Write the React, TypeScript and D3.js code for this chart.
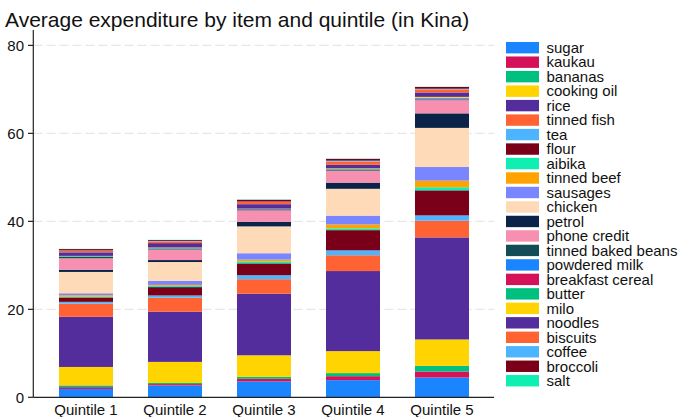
import React from "react";
import * as d3 from "d3";

const quintiles = ["Quintile 1", "Quintile 2", "Quintile 3", "Quintile 4", "Quintile 5"];
const items = [
  "sugar", "kaukau", "bananas", "cooking oil", "rice", "tinned fish", "tea", "flour",
  "aibika", "tinned beef", "sausages", "chicken", "petrol", "phone credit",
  "tinned baked beans", "powdered milk", "breakfast cereal", "butter", "milo",
  "noodles", "biscuits", "coffee", "broccoli", "salt",
];
const sugar = [1.9, 2.7, 3.6, 3.9, 4.5];
const kaukau = [0.4, 0.3, 0.6, 0.9, 1.35];
const bananas = [0.4, 0.25, 0.45, 0.7, 1.3];
const cookingOil = [4.2, 4.8, 4.9, 5.0, 6.0];
const rice = [11.4, 11.4, 14.0, 18.2, 23.2];
const tinnedFish = [3.0, 3.2, 3.3, 3.6, 3.8];
const tea = [0.4, 0.5, 0.9, 1.1, 1.2];
const flour = [1.0, 1.9, 2.7, 4.6, 5.7];
const aibika = [0.2, 0.3, 0.45, 0.4, 0.7];
const tinnedBeef = [0.3, 0.2, 0.4, 0.9, 1.5];
const sausages = [0.45, 0.9, 1.45, 2.0, 3.1];
const chicken = [4.85, 4.3, 6.1, 6.1, 8.9];
const petrol = [0.5, 0.45, 1.05, 1.4, 3.3];
const phoneCredit = [2.6, 2.4, 2.6, 2.7, 3.0];
const bakedBeans = [0.3, 0.15, 0.2, 0.15, 0.15];
const powderedMilk = [0.05, 0.05, 0.05, 0.1, 0.2];
const cereal = [0.05, 0.05, 0.05, 0.05, 0.1];
const butter = [0.1, 0.1, 0.05, 0.1, 0.1];
const milo = [0.05, 0.1, 0.05, 0.15, 0.2];
const noodles = [0.8, 1.0, 1.0, 0.8, 1.0];
const biscuits = [0.35, 0.4, 0.5, 0.75, 0.7];
const coffee = [0.1, 0.1, 0.1, 0.2, 0.15];
const broccoli = [0.3, 0.2, 0.4, 0.4, 0.4];
const salt = [0.05, 0.05, 0.05, 0.05, 0.05];

const seriesValues = [
  sugar, kaukau, bananas, cookingOil, rice, tinnedFish, tea, flour, aibika, tinnedBeef,
  sausages, chicken, petrol, phoneCredit, bakedBeans, powderedMilk, cereal, butter, milo,
  noodles, biscuits, coffee, broccoli, salt,
];
const yTicks = [0, 20, 40, 60, 80];

const palette = [
  "#1a85ff", "#d41159", "#00bf7f", "#ffd400", "#532d9b", "#ff6233", "#4db5ff",
  "#7a0019", "#0fefb2", "#ffa300", "#7a86ff", "#ffdab8", "#0b2348", "#f78fb0", "#124d57",
];

const FONT = "'Liberation Sans', Arial, Helvetica, sans-serif";

export default function App() {
  const W = 680, H = 417;
  const x = d3.scaleBand<string>().domain(quintiles).range([41.5, 486.5]).paddingInner(0.393).paddingOuter(0.1965);
  const y = d3.scaleLinear().domain([0, 83.5]).range([397.3, 30]);
  const color = d3.scaleOrdinal<string, string>().domain(items).range(items.map((_, i) => palette[i % palette.length]));

  const table = quintiles.map((q, qi) => {
    const row: any = { q };
    items.forEach((it, ii) => (row[it] = seriesValues[ii][qi]));
    return row;
  });
  const stacked = d3.stack<any>().keys(items)(table);

  const legendY = (i: number) => 47.7 + i * 14.48;

  return (
    <svg width={W} height={H} style={{ position: "absolute", left: 0, top: 0, background: "#fff" }} fontFamily={FONT}>
      <rect x={0} y={0} width={W} height={H} fill="#fff" />
      <text x={5} y={27} fontSize={21} fill="#111">Average expenditure by item and quintile (in Kina)</text>
      {yTicks.filter((t) => t > 0).map((t) => (
        <line key={"g" + t} x1={33.5} x2={494} y1={y(t)} y2={y(t)} stroke="#e6e6e6" strokeWidth={1.3} strokeDasharray="9,4" />
      ))}
      {stacked.map((s) => (
        <g key={s.key} fill={color(s.key)}>
          {s.map((d, i) => (
            <rect key={i} x={x(quintiles[i])} width={x.bandwidth()} y={y(d[1])} height={Math.max(0, y(d[0]) - y(d[1]))} />
          ))}
        </g>
      ))}
      <line x1={33.3} x2={33.3} y1={30} y2={397.3} stroke="#222" strokeWidth={1.2} />
      <line x1={33.3} x2={494} y1={397.3} y2={397.3} stroke="#222" strokeWidth={1.2} />
      {yTicks.map((t) => (
        <g key={"t" + t}>
          <line x1={28} x2={33.3} y1={y(t)} y2={y(t)} stroke="#222" strokeWidth={1.2} />
          <text x={24} y={y(t)} dy="0.35em" textAnchor="end" fontSize={15} fill="#111">{t}</text>
        </g>
      ))}
      {quintiles.map((q) => (
        <text key={q} x={(x(q) as number) + x.bandwidth() / 2} y={415} textAnchor="middle" fontSize={15} fill="#111">{q}</text>
      ))}
      {items.map((it, i) => (
        <g key={"l" + it}>
          <rect x={506} y={legendY(i) - 5.7} width={33} height={11.4} fill={color(it)} />
          <text x={546.5} y={legendY(i)} dy="0.35em" fontSize={15} fill="#111">{it}</text>
        </g>
      ))}
    </svg>
  );
}
